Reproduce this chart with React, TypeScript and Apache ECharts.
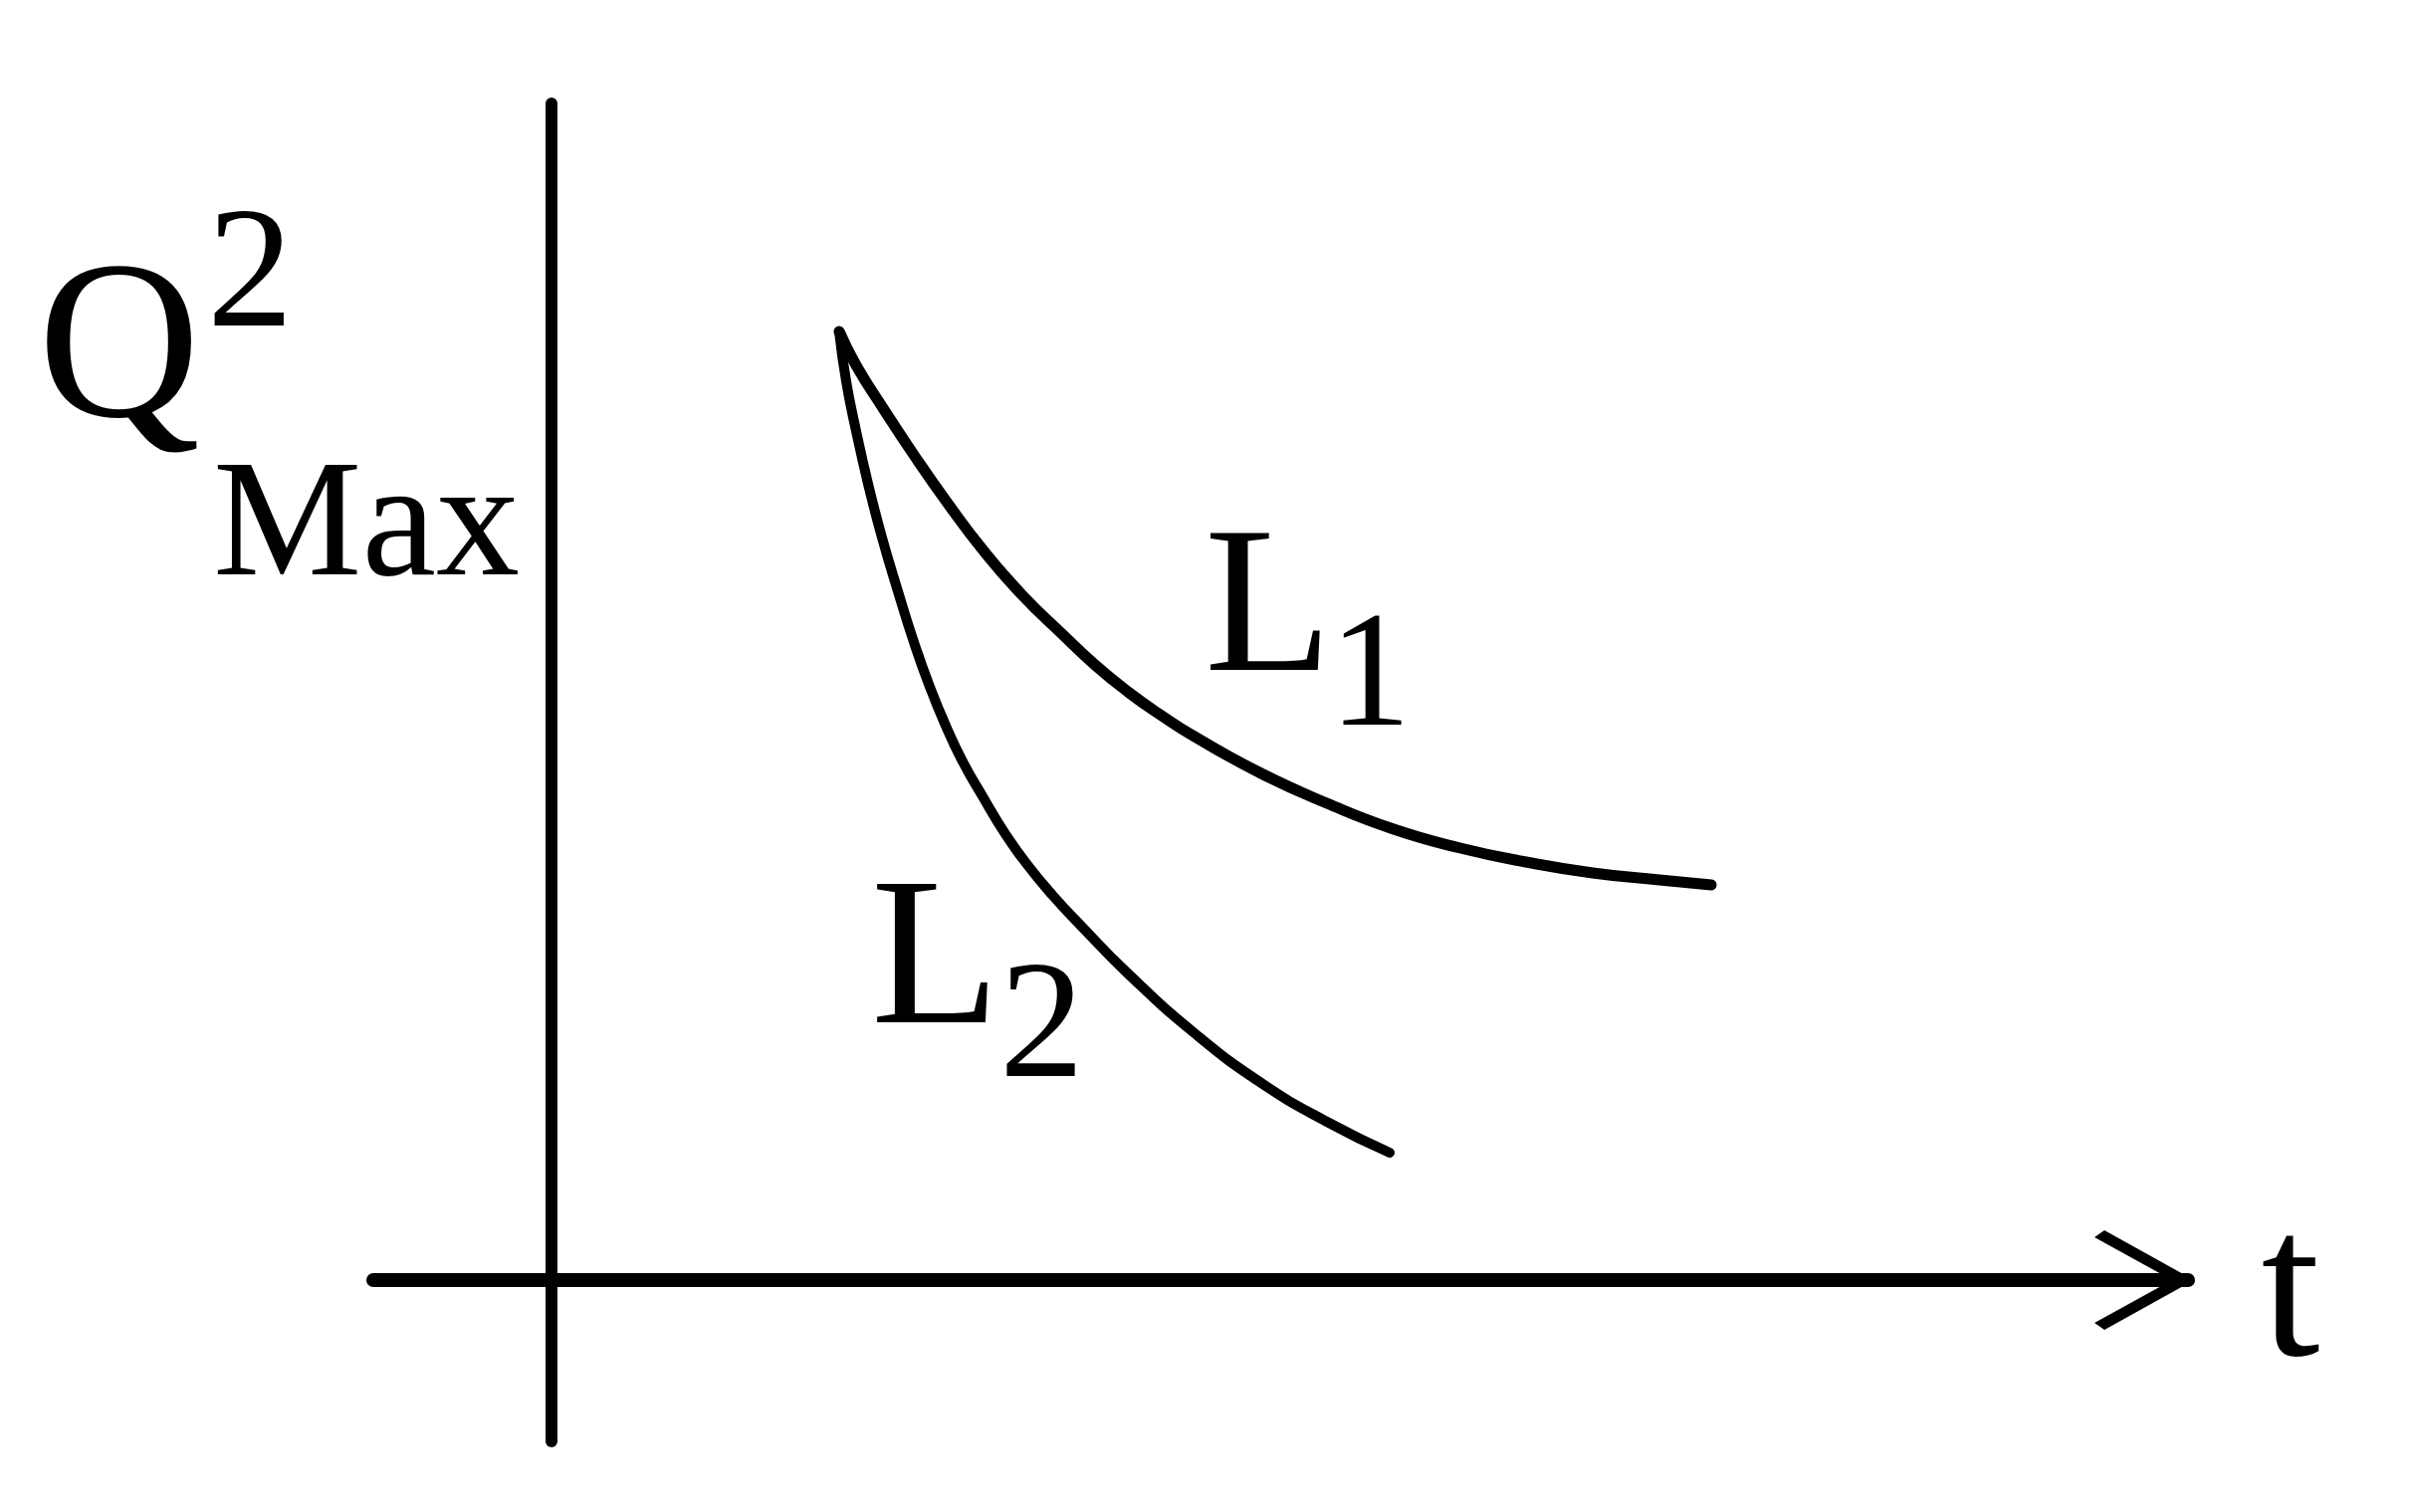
import React, { useEffect, useRef } from 'react';
import * as echarts from 'echarts';

// Sketch of Q²Max against t for two lengths
// t (x) and Q²Max (y) in arbitrary units, origin where the axes cross
const l1T = [2.89, 3.06, 3.33, 3.66, 3.99, 4.33, 4.73, 5.13, 5.46, 5.79, 6.13, 6.46, 7.13, 7.79, 8.46, 9.13, 9.79, 10.46, 11.13, 11.65];
const l1Q = [9.53, 9.19, 8.76, 8.26, 7.79, 7.34, 6.88, 6.49, 6.18, 5.91, 5.67, 5.46, 5.09, 4.79, 4.53, 4.34, 4.2, 4.09, 4.02, 3.97];

const l2T = [2.89, 2.96, 3.06, 3.18, 3.32, 3.48, 3.64, 3.8, 3.96, 4.13, 4.33, 4.56, 4.79, 5.03, 5.29, 5.79, 6.46, 7.13, 7.79, 8.42];
const l2Q = [9.53, 9.03, 8.53, 8.0, 7.46, 6.92, 6.41, 5.96, 5.57, 5.21, 4.86, 4.48, 4.16, 3.87, 3.59, 3.08, 2.48, 1.98, 1.59, 1.28];

const tRange = [-1.79, 16.44];
const qRange = [-1.62, 11.82];

// open chevron used as the arrow head of the t axis (points up, rotated by echarts)
const chevron = 'path://M50 0 L100 90 L93 100 L50 22 L7 100 L0 90 Z';

const serif = '"Liberation Serif", "DejaVu Serif", serif';

const label = (text: string, x: number, y: number, size: number, align = 'left') => ({
  type: 'text',
  x,
  y,
  silent: true,
  style: {
    text,
    fill: '#000',
    fontFamily: serif,
    fontSize: size,
    align,
    verticalAlign: 'middle'
  }
});

const App: React.FC = () => {
  const chartRef = useRef<HTMLDivElement>(null);

  useEffect(() => {
    if (!chartRef.current) return;
    document.body.style.margin = '0';

    const chart = echarts.init(chartRef.current, null, { renderer: 'svg' });

    const options: echarts.EChartsOption = {
      animation: false,
      backgroundColor: '#fff',
      grid: { left: 375, right: 232, top: 104, bottom: 71 },
      xAxis: {
        type: 'value',
        min: tRange[0],
        max: tRange[1],
        axisLine: {
          show: true,
          onZero: true,
          symbol: ['none', chevron],
          symbolSize: [100, 100],
          symbolOffset: [0, -44],
          lineStyle: { color: '#000', width: 14, cap: 'round' }
        },
        axisTick: { show: false },
        axisLabel: { show: false },
        splitLine: { show: false }
      },
      yAxis: {
        type: 'value',
        min: qRange[0],
        max: qRange[1],
        axisLine: {
          show: true,
          onZero: true,
          lineStyle: { color: '#000', width: 12, cap: 'round' }
        },
        axisTick: { show: false },
        axisLabel: { show: false },
        splitLine: { show: false }
      },
      series: [
        {
          name: 'L1',
          type: 'line',
          data: l1T.map((t, i) => [t, l1Q[i]]),
          showSymbol: false,
          smooth: 0.5,
          lineStyle: { color: '#000', width: 11, cap: 'round', join: 'round' }
        },
        {
          name: 'L2',
          type: 'line',
          data: l2T.map((t, i) => [t, l2Q[i]]),
          showSymbol: false,
          smooth: 0.5,
          lineStyle: { color: '#000', width: 10, cap: 'round', join: 'round' }
        }
      ],
      graphic: [
        label('Q', 38, 342, 226),
        label('2', 208, 268, 173),
        label('Max', 214, 520, 168),
        label('L', 1210, 602, 210),
        label('1', 1335, 672, 165),
        label('L', 875, 955, 212),
        label('2', 1004, 1024, 170),
        label('t', 2301, 1289, 212, 'center')
      ] as any
    };

    chart.setOption(options);

    return () => {
      chart.dispose();
    };
  }, []);

  return <div ref={chartRef} style={{ width: 2430, height: 1519 }} />;
};

export default App;
